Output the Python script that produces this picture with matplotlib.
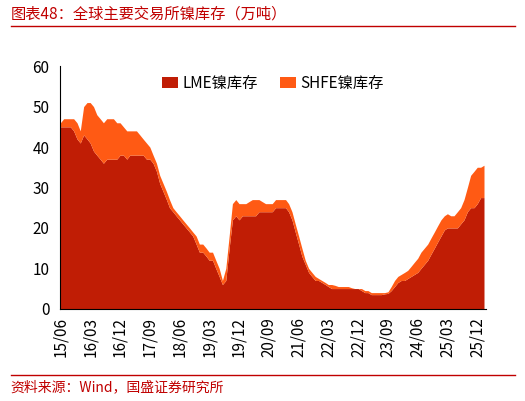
import numpy as np
import pandas as pd
import matplotlib
matplotlib.use("Agg")
import matplotlib.pyplot as plt

plt.rcParams['font.family'] = ['Noto Sans CJK SC', 'DejaVu Sans']

# monthly, 2015-06 .. 2026-02 (units: 10k tonnes)
lme = [45, 45, 45, 45, 44, 42, 41,
       43, 42, 41, 39, 38, 37, 36, 37, 37, 37, 37, 38,
       38, 37, 38, 38, 38, 38, 38, 37, 37, 36, 34, 31,
       29, 27, 25, 24, 23, 22, 21, 20, 19, 18, 16, 14,
       14, 13, 12, 12, 10, 8, 6, 7, 15, 22, 23, 22,
       23, 23, 23, 23, 23, 24, 24, 24, 24, 24, 25, 25,
       25, 25, 24, 22, 19, 16, 13, 11, 9, 8, 7, 7,
       6.5, 6, 5.5, 5, 5, 5, 5, 5, 5, 5, 5, 5,
       4.5, 4, 4, 3.5, 3.5, 3.5, 3.5, 3.7, 3.8, 4.5, 5.5, 6.5,
       7, 7, 7.5, 8, 8.5, 9, 10, 11, 12, 13.5, 15, 16.5,
       18, 19.5, 20, 20, 20, 20, 21, 22, 24, 25, 25, 26,
       27.5, 27.5]
total = [46, 47, 47, 47, 47, 46, 44,
         50, 51, 51, 50, 48, 47, 46, 47, 47, 47, 46, 46,
         45, 44, 44, 44, 44, 43, 42, 41, 40, 38, 36, 33,
         31, 29, 27, 25, 24, 23, 22, 21, 20, 19, 18, 16,
         16, 15, 14, 14, 12, 10, 7, 10, 18, 26, 27, 26,
         26, 26, 26.5, 27, 27, 27, 26.5, 26, 26, 26, 27, 27,
         27, 27, 26, 24, 21, 18, 15, 12, 10, 9, 8, 7.5,
         7, 6.5, 6, 6, 5.8, 5.5, 5.5, 5.5, 5.5, 5.2, 5, 5,
         5, 4.5, 4.5, 4, 4, 4, 4, 4, 4.2, 5.5, 7, 8,
         8.5, 9, 9.5, 10.5, 11.5, 12.5, 14, 15, 16, 17.5, 19, 20.5,
         22, 23, 23.5, 23, 23, 24, 25, 27, 30, 33, 34, 35,
         35, 35.5]
dates = pd.date_range('2015-06-01', periods=len(lme), freq='MS')
tick_dates = pd.date_range('2015-06-01', '2025-12-01', freq='9MS')

fig = plt.figure(figsize=(5.25, 4.01), dpi=100)
ax = fig.add_axes([0.115, 0.23, 0.81, 0.605])
ax.fill_between(dates, 0, lme, color='#C01D05', lw=0, label='LME镍库存')
ax.fill_between(dates, lme, total, color='#FF5A14', lw=0, label='SHFE镍库存')
ax.set_xlim(dates[0], dates[-1] + pd.Timedelta(days=15))
ax.set_ylim(0, 60)
ax.set_yticks(range(0, 61, 10))
ax.set_xticks(tick_dates)
ax.set_xticklabels([d.strftime('%y/%m') for d in tick_dates], rotation=90)
ax.tick_params(labelsize=11, length=0)
ax.tick_params(axis='x', pad=6)
ax.tick_params(axis='y', pad=8)
for s in ['top', 'right']:
    ax.spines[s].set_visible(False)
ax.legend(loc='upper center', bbox_to_anchor=(0.5, 1.02), ncol=2, frameon=False,
          fontsize=11, handlelength=1, handletextpad=0.3, columnspacing=1.5)

fig.text(0.02, 0.965, '图表48：全球主要交易所镍库存（万吨）', color='#C00000',
         fontsize=11, style='italic', va='center')
fig.add_artist(plt.Line2D([0.02, 0.98], [0.935, 0.935], color='#C00000', lw=1))
fig.add_artist(plt.Line2D([0.02, 0.98], [0.065, 0.065], color='#C00000', lw=1))
fig.text(0.02, 0.035, '资料来源：Wind，国盛证券研究所', color='#C00000',
         fontsize=10, style='italic', va='center')
fig.savefig('out.png', dpi=100)
